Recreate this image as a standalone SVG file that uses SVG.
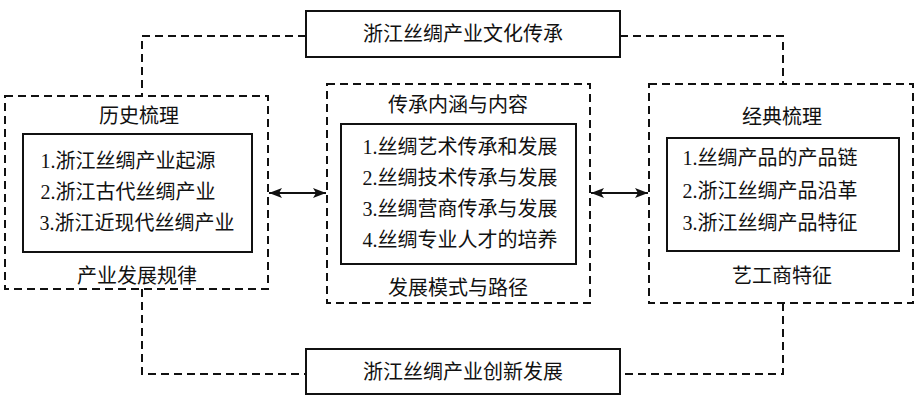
<svg xmlns="http://www.w3.org/2000/svg" width="922" height="403" viewBox="0 0 922 403">
<style>
text{font-family:"Liberation Serif","Noto Sans CJK SC",serif;font-size:20px;fill:#111;text-anchor:middle;dominant-baseline:central}
.solid{fill:#fff;stroke:#111;stroke-width:2}
.dash{fill:none;stroke:#111;stroke-width:2;stroke-dasharray:8 5}
.arrow{fill:none;stroke:#111;stroke-width:2}
</style>
<defs>
<marker id="ah" viewBox="0 0 13 10" refX="13" refY="5" markerWidth="13" markerHeight="10" markerUnits="userSpaceOnUse" orient="auto-start-reverse">
<path d="M0,0 L13,5 L0,10 L3,5 Z" fill="#111"/>
</marker>
</defs>
<rect width="922" height="403" fill="#fff"/>
<g id="connectors">
<path class="dash" d="M306,36 H142 V96"/>
<path class="dash" d="M620,36 H783 V84"/>
<path class="dash" d="M142,289 V374 H306"/>
<path class="dash" d="M783,303 V374 H620"/>
<line class="arrow" x1="269" y1="193" x2="326" y2="193" marker-start="url(#ah)" marker-end="url(#ah)"/>
<line class="arrow" x1="591" y1="193" x2="648" y2="193" marker-start="url(#ah)" marker-end="url(#ah)"/>
</g>
<g id="top">
<rect class="solid" x="306" y="11" width="314" height="46"/>
<text x="463" y="34">浙江丝绸产业文化传承</text>
</g>
<g id="left">
<rect class="dash" x="5" y="96" width="263" height="193"/>
<text x="139" y="116">历史梳理</text>
<rect class="solid" x="23" y="134" width="229" height="118"/>
<text x="128" y="161">1.浙江丝绸产业起源</text>
<text x="128" y="192">2.浙江古代丝绸产业</text>
<text x="137" y="223">3.浙江近现代丝绸产业</text>
<text x="137" y="276">产业发展规律</text>
</g>
<g id="center">
<rect class="dash" x="327" y="84" width="263" height="219"/>
<text x="458" y="105">传承内涵与内容</text>
<rect class="solid" x="341" y="124" width="235" height="140"/>
<text x="460" y="147">1.丝绸艺术传承和发展</text>
<text x="460" y="178">2.丝绸技术传承与发展</text>
<text x="460" y="209">3.丝绸营商传承与发展</text>
<text x="460" y="240">4.丝绸专业人才的培养</text>
<text x="458" y="288">发展模式与路径</text>
</g>
<g id="right">
<rect class="dash" x="649" y="84" width="264" height="219"/>
<text x="782" y="117">经典梳理</text>
<rect class="solid" x="667" y="138" width="232" height="113"/>
<text x="770" y="158">1.丝绸产品的产品链</text>
<text x="770" y="191">2.浙江丝绸产品沿革</text>
<text x="770" y="223">3.浙江丝绸产品特征</text>
<text x="782" y="276">艺工商特征</text>
</g>
<g id="bottom">
<rect class="solid" x="306" y="349" width="314" height="45"/>
<text x="463" y="372">浙江丝绸产业创新发展</text>
</g>
</svg>
